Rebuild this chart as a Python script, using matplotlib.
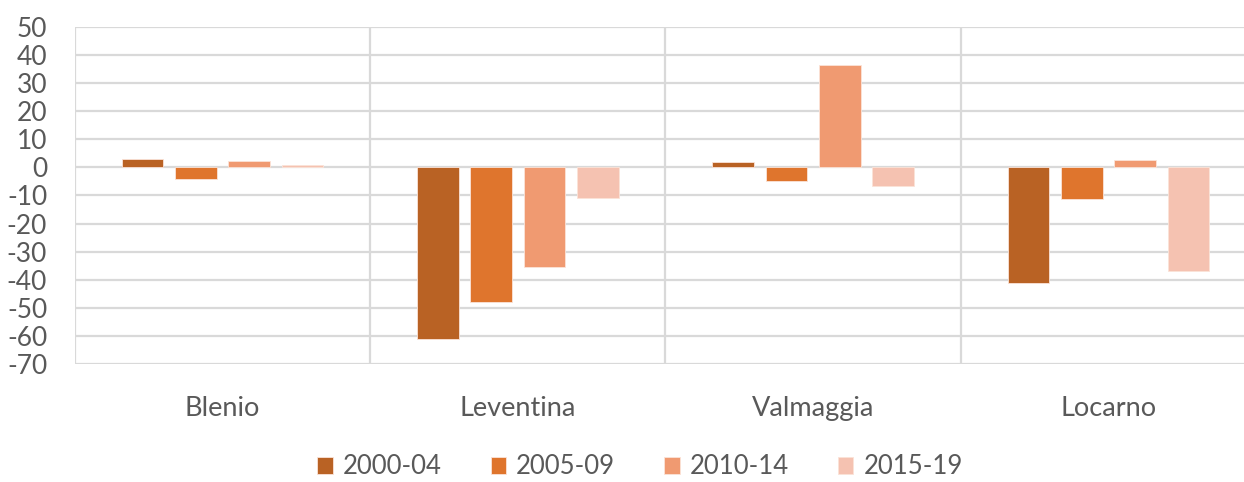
import matplotlib.pyplot as plt
import numpy as np

plt.rcParams['font.family'] = ['Lato', 'DejaVu Sans']
plt.rcParams['axes.unicode_minus'] = False

regions = ['Blenio', 'Leventina', 'Valmaggia', 'Locarno']
periods = ['2000-04', '2005-09', '2010-14', '2015-19']
v_2000_04 = [3.0, -61.0, 2.0, -41.0]
v_2005_09 = [-4.0, -48.0, -5.0, -11.3]
v_2010_14 = [2.2, -35.6, 36.3, 2.5]
v_2015_19 = [0.8, -11.0, -6.5, -37.0]
series = [v_2000_04, v_2005_09, v_2010_14, v_2015_19]
colors = ['#B96224', '#DF752D', '#F09A71', '#F5C2B1']

grey = '#595959'
grid = '#D9D9D9'

fig = plt.figure(figsize=(12.44, 4.82), dpi=100)
# plot area runs a little past the right edge of the picture, like the reference
ax = fig.add_axes([75 / 1244, 118 / 482, 1181 / 1244, 337 / 482])

x = np.arange(len(regions))
step = 0.1807
width = 0.141
for i, (vals, col, lab) in enumerate(zip(series, colors, periods)):
    ax.bar(x + (i - 1.5) * step, vals, width, color=col, label=lab,
           edgecolor='#FBE3D8', linewidth=0.6, zorder=3)

ax.set_xlim(-0.5, len(regions) - 0.5)
ax.set_ylim(-70, 50)
ax.set_yticks(np.arange(-70, 51, 10))
ax.yaxis.grid(True, color=grid, linewidth=1.6, zorder=0)
for b in np.arange(-0.5, len(regions), 1.0):
    ax.axvline(b, color=grid, linewidth=1.6, zorder=0)

for s in ax.spines.values():
    s.set_visible(False)
ax.tick_params(axis='y', length=0, pad=20, labelsize=19, labelcolor=grey)
ax.tick_params(axis='x', length=0, pad=23, labelsize=19.5, labelcolor=grey)
ax.set_xticks(x)
ax.set_xticklabels(regions)

fig.legend(loc='center', bbox_to_anchor=(640 / 1244, 1 - 467 / 482), ncol=4,
           frameon=False, fontsize=18.5, handlelength=0.6, handleheight=0.6,
           handletextpad=0.4, columnspacing=1.9, labelcolor=grey)

fig.savefig('out.png', dpi=100)
